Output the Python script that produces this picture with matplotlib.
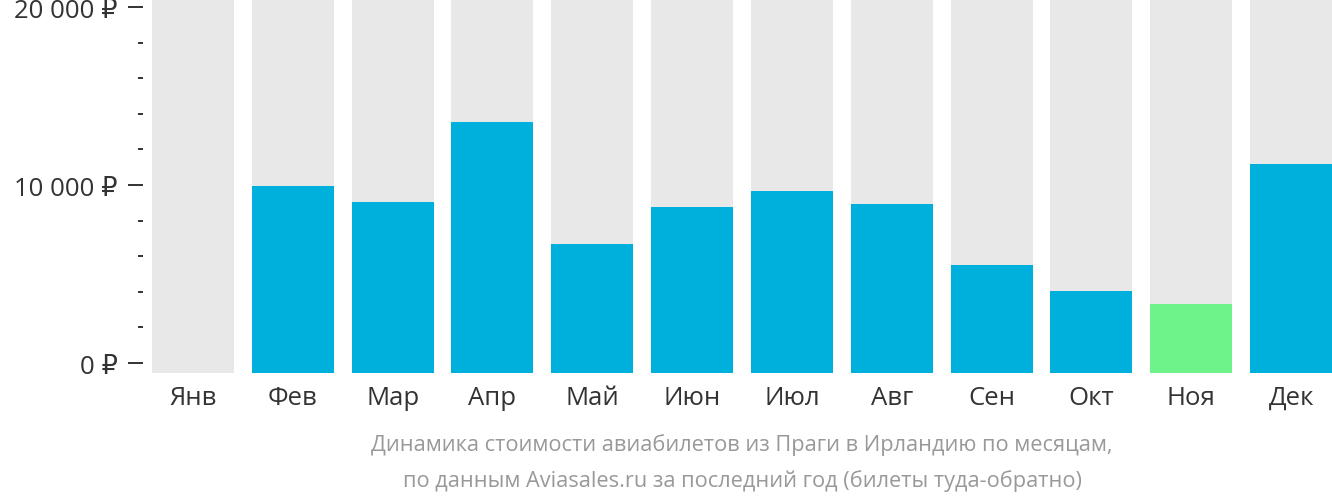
import numpy as np
import matplotlib
matplotlib.use("Agg")
import matplotlib.pyplot as plt
from matplotlib.ticker import MultipleLocator, FuncFormatter

plt.rcParams['font.family'] = ['Open Sans', 'DejaVu Sans']

months = ['Янв', 'Фев', 'Мар', 'Апр', 'Май', 'Июн', 'Июл', 'Авг', 'Сен', 'Окт', 'Ноя', 'Дек']
prices = [0, 9950, 9050, 13550, 6700, 8770, 9670, 8940, 5510, 4050, 3320, 11190]
cheapest = 'Ноя'
caption = ['Динамика стоимости авиабилетов из Праги в Ирландию по месяцам,',
           'по данным Aviasales.ru за последний год (билеты туда-обратно)']

blue = '#00b0dc'
green = '#6ef28a'
grey = '#e8e8e8'

ymin, ymax = -560, 20450

fig = plt.figure(figsize=(13.32, 5.02), dpi=100)
ax = fig.add_axes([152 / 1332, 128 / 502, 1180 / 1332, 374 / 502])

x = np.arange(len(months))
ax.bar(x, ymax - ymin, bottom=ymin, width=0.82, color=grey, zorder=1)
colors = [green if m == cheapest else blue for m in months]
heights = [p - ymin if p > 0 else 0 for p in prices]
ax.bar(x, heights, bottom=ymin, width=0.82, color=colors, zorder=2)

ax.set_xlim(-0.41, 11.41)
ax.set_ylim(ymin, ymax)
ax.set_xticks(x)
ax.set_xticklabels(months, fontsize=18.5, color='#333333')
ax.tick_params(axis='x', length=0, pad=8.5)

ax.yaxis.set_major_locator(MultipleLocator(10000))
ax.yaxis.set_minor_locator(MultipleLocator(2000))
ax.yaxis.set_major_formatter(FuncFormatter(lambda v, p: f"{int(v):,} ₽".replace(',', ' ')))
ax.tick_params(axis='y', which='major', length=10.8, width=1.4, color='#333333',
               labelsize=18.5, labelcolor='#333333', pad=7.5)
ax.tick_params(axis='y', which='minor', length=3.6, width=1.4, color='#333333')

for s in ax.spines.values():
    s.set_visible(False)
ax.spines['left'].set_position(('outward', 6.5))

fig.text(742 / 1332, 1 - 445 / 502, caption[0], ha='center', va='center',
         fontsize=15.7, color='#999999')
fig.text(742 / 1332, 1 - 481 / 502, caption[1], ha='center', va='center',
         fontsize=15.7, color='#999999')

fig.savefig('out.png', dpi=100)
